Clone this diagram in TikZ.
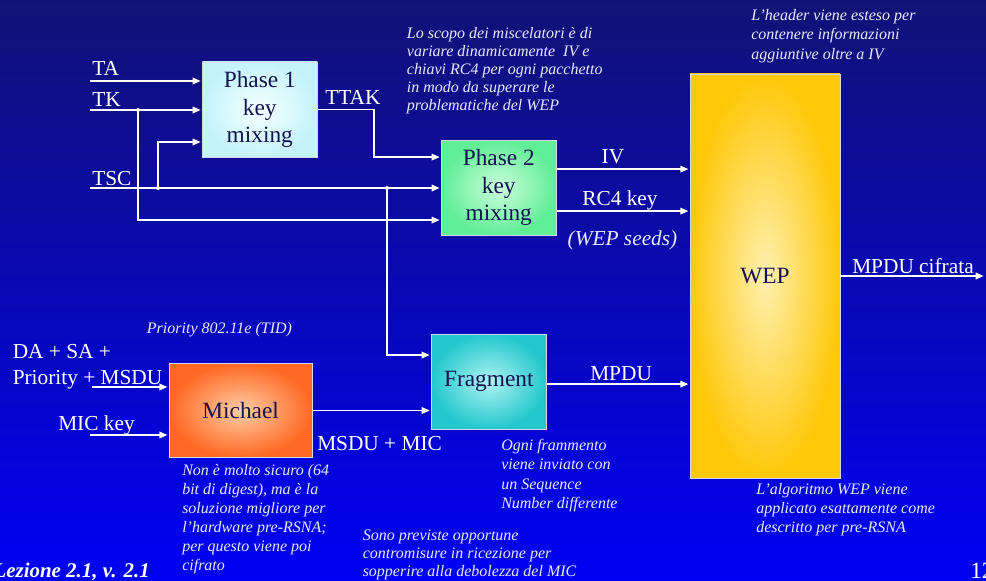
\documentclass[tikz,border=0pt]{standalone}
\usepackage{fontspec}
\setmainfont{Liberation Serif}
\usetikzlibrary{arrows.meta,calc}
\definecolor{bgtop}{RGB}{18,18,118}
\definecolor{bgmid}{RGB}{6,6,196}
\definecolor{bgbot}{RGB}{0,0,245}
\definecolor{boxtxt}{RGB}{20,20,80}
\definecolor{notecol}{RGB}{232,232,255}
\definecolor{edgecol}{RGB}{215,215,235}
\definecolor{ponein}{RGB}{245,255,255}
\definecolor{poneout}{RGB}{196,244,250}
\definecolor{ptwoin}{RGB}{205,255,220}
\definecolor{ptwoout}{RGB}{96,238,150}
\definecolor{fragin}{RGB}{175,242,242}
\definecolor{fragout}{RGB}{34,200,205}
\definecolor{michin}{RGB}{255,205,165}
\definecolor{michout}{RGB}{255,104,34}
\definecolor{wepin}{RGB}{255,240,175}
\definecolor{wepout}{RGB}{255,200,10}
\begin{document}
\begin{tikzpicture}[x=0.75pt,y=-0.75pt,
  blk/.style={draw=edgecol, line width=0.5pt, inner sep=0pt, text=boxtxt,
    font=\fontsize{17.5}{20.6}\selectfont, align=center},
  arr/.style={white, line width=1pt, -{Triangle[length=6pt,width=5pt]}, shorten >=1pt},
  lbl/.style={text=white, inner sep=0pt, font=\fontsize{16}{19}\selectfont},
  note/.style={text=notecol, inner sep=0pt, anchor=base west},
  dotj/.style={white}]
\useasboundingbox (0,0) rectangle (986,581);
\shade[top color=bgtop, middle color=bgmid, bottom color=bgbot] (0,0) rectangle (986,581);

% boxes
\node[blk, minimum width=86.25pt, minimum height=71.25pt, inner color=ponein, outer color=poneout] (p1) at (259.8,109.5) {Phase 1\\key\\mixing};
\node[blk, minimum width=86.25pt, minimum height=71.25pt, inner color=ptwoin, outer color=ptwoout] (p2) at (498.8,187.6) {Phase 2\\key\\mixing};
\node[blk, minimum width=86.25pt, minimum height=71.25pt, inner color=fragin, outer color=fragout] (frag) at (488.8,381.6) {Fragment};
\node[blk, minimum width=107.5pt, minimum height=70.8pt, inner color=michin, outer color=michout] (mich) at (240.7,410.5) {Michael};
\node[blk, minimum width=112.5pt, minimum height=303pt, inner color=wepin, outer color=wepout] (wep) at (765,276) {WEP};

% coordinates
\coordinate (taS) at (90,81);
\coordinate (tkS) at (90,110);
\coordinate (jTK) at (138,110);
\coordinate (tscS) at (90,188);
\coordinate (jTSa) at (158,188);
\coordinate (jTSb) at (387,188);
\coordinate (ttakB) at (374,109.5);
\coordinate (ivS) at ($(p2.east)+(0,-18.5)$);
\coordinate (rcS) at ($(p2.east)+(0,23.5)$);
\coordinate (mpS) at ($(frag.east)+(0,2.5)$);
\coordinate (msduS) at (92,387);
\coordinate (mickS) at (90,435);
\coordinate (outEnd) at (985,276);

% connectors
\draw[arr] (taS) -- (taS -| p1.west);
\draw[arr] (tkS) -- (tkS -| p1.west);
\draw[arr] (tscS) -- (tscS -| p2.west);
\draw[arr] (jTSa) |- ($(p1.west)+(0,32.5)$);
\draw[arr] (jTK) |- ($(p2.west)+(0,32.5)$);
\draw[arr] (p1.east) -- (ttakB) |- ($(p2.west)+(0,-30.5)$);
\draw[arr] (jTSb) |- ($(frag.west)+(0,-26.5)$);
\draw[arr] (ivS) -- (ivS -| wep.west);
\draw[arr] (rcS) -- (rcS -| wep.west);
\draw[arr] (mpS) -- (mpS -| wep.west);
\draw[arr] (mich.east) -- (mich.east -| frag.west);
\draw[arr] (msduS) -- (msduS -| mich.west);
\draw[arr] (mickS) -- (mickS -| mich.west);
\draw[arr] (wep.east) -- (outEnd);
\foreach \p in {jTK,jTSa,jTSb} \fill[dotj] (\p) circle (1.5pt);

% labels
\node[lbl, anchor=base west] at (92,76) {TA};
\node[lbl, anchor=base west] at (92,107) {TK};
\node[lbl, anchor=base west] at (92,185.5) {TSC};
\node[lbl, anchor=base west] at (325,105) {TTAK};
\node[lbl, anchor=base] at (613,164) {IV};
\node[lbl, anchor=base] at (620,206) {RC4 key};
\node[lbl, anchor=base, text=notecol, font=\fontsize{16}{19}\selectfont\itshape] at (622.5,246) {(WEP seeds)};
\node[lbl, anchor=base west] at (852,273) {MPDU cifrata};
\node[lbl, anchor=base west] at (590,380) {MPDU};
\node[lbl, anchor=base west] at (317,450.5) {MSDU + MIC};
\node[lbl, anchor=base west] at (12.5,358) {DA + SA +};
\node[lbl, anchor=base west] at (12.5,384) {Priority + MSDU};
\node[lbl, anchor=base west] at (58,430) {MIC key};

% notes
\node[note, font=\fontsize{12}{13.6}\selectfont\itshape] at (406.7,38.3) {\vtop{%
  \hbox{Lo scopo dei miscelatori è di}
  \hbox{variare dinamicamente\ \ IV e}
  \hbox{chiavi RC4 per ogni pacchetto}
  \hbox{in modo da superare le}
  \hbox{problematiche del WEP}}};
\node[note, font=\fontsize{12}{14.5}\selectfont\itshape] at (751,20.4) {\vtop{%
  \hbox{L’header viene esteso per}
  \hbox{contenere informazioni}
  \hbox{aggiuntive oltre a IV}}};
\node[note, font=\fontsize{12}{14.6}\selectfont\itshape] at (756,494) {\vtop{%
  \hbox{L’algoritmo WEP viene}
  \hbox{applicato esattamente come}
  \hbox{descritto per pre-RSNA}}};
\node[note, font=\fontsize{12}{14.25}\selectfont\itshape] at (182,475) {\vtop{%
  \hbox{Non è molto sicuro (64}
  \hbox{bit di digest), ma è la}
  \hbox{soluzione migliore per}
  \hbox{l’hardware pre-RSNA;}
  \hbox{per questo viene poi}
  \hbox{cifrato}}};
\node[note, font=\fontsize{12}{14.4}\selectfont\itshape] at (501,450.7) {\vtop{%
  \hbox{Ogni frammento}
  \hbox{viene inviato con}
  \hbox{un Sequence}
  \hbox{Number differente}}};
\node[note, font=\fontsize{12}{13.8}\selectfont\itshape] at (362.5,540) {\vtop{%
  \hbox{Sono previste opportune}
  \hbox{contromisure in ricezione per}
  \hbox{sopperire alla debolezza del MIC}}};
\node[note, font=\fontsize{12}{14}\selectfont\itshape] at (146.7,334) {Priority 802.11e (TID)};

% footer
\node[lbl, anchor=base east, font=\fontsize{15.7}{18}\selectfont\bfseries\itshape] at (150,577) {Lezione 2.1, v. 2.1};
\node[lbl, anchor=base west, font=\fontsize{17.5}{20}\selectfont] at (970,578) {12};
\end{tikzpicture}
\end{document}
